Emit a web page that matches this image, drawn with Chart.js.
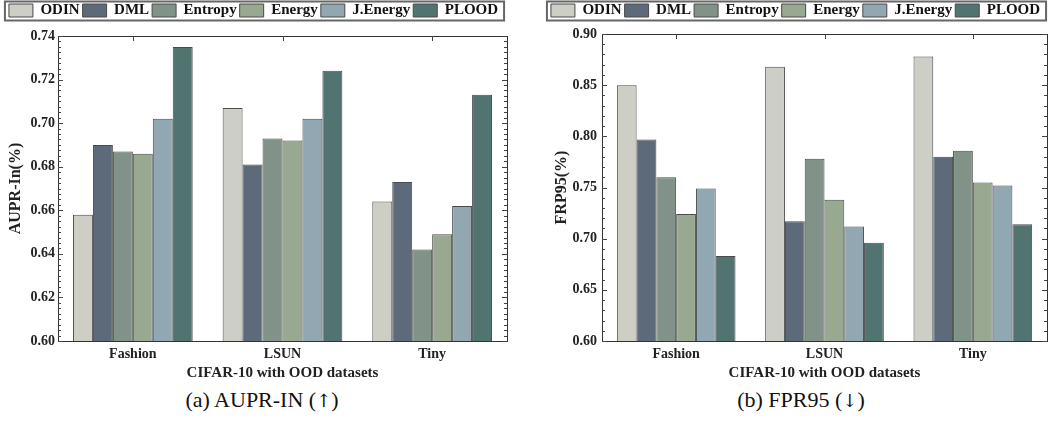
<!DOCTYPE html>
<html>
<head>
<meta charset="utf-8">
<script src="https://cdn.jsdelivr.net/npm/chart.js@4.4.1/dist/chart.umd.min.js"></script>
<style>
    body { margin: 0; background: #fff; width: 1050px; height: 421px; overflow: hidden; position: relative; }
    canvas { position: absolute; top: 0; }
    #auprChart { left: 0; }
    #fprChart { left: 544px; }
    .caption {
        position: absolute; top: 386px; height: 28px; line-height: 28px;
        font-family: 'Liberation Serif', 'Times New Roman', serif; font-size: 22px; color: #111;
        text-align: center; width: 300px;
    }
    .caption span { font-family: 'DejaVu Serif', serif; font-size: 18px; }
</style>
</head>
<body>
<canvas id="auprChart" width="508" height="385"></canvas>
<canvas id="fprChart" width="506" height="385"></canvas>
<div class="caption" style="left:112px">(a) AUPR-IN (<span>↑</span>)</div>
<div class="caption" style="left:651px">(b) FPR95 (<span>↓</span>)</div>
<script>
// Categories and methods
const categories = ['Fashion', 'LSUN', 'Tiny'];
const methods = ['ODIN', 'DML', 'Entropy', 'Energy', 'J.Energy', 'PLOOD'];
const methodColors = ['#cdcec6', '#5c6a7a', '#819389', '#99a891', '#91a7b2', '#527470'];

// AUPR-In values
const auprODIN = [0.658, 0.707, 0.664];
const auprDML = [0.690, 0.681, 0.673];
const auprEntropy = [0.687, 0.693, 0.642];
const auprEnergy = [0.686, 0.692, 0.649];
const auprJEnergy = [0.702, 0.702, 0.662];
const auprPLOOD = [0.735, 0.724, 0.713];

// FPR95 values
const fprODIN = [0.850, 0.868, 0.878];
const fprDML = [0.797, 0.717, 0.780];
const fprEntropy = [0.760, 0.778, 0.786];
const fprEnergy = [0.724, 0.738, 0.755];
const fprJEnergy = [0.749, 0.712, 0.752];
const fprPLOOD = [0.683, 0.696, 0.714];

// Axis ranges / tick steps
const auprRange = [0.60, 0.74];
const auprStep = 0.02;
const auprMinor = 0.0025;
const fprRange = [0.60, 0.90];
const fprStep = 0.05;
const fprMinor = 0.01;

const serif = "'Liberation Serif', 'Times New Roman', serif";
const ink = '#222';

// Box around the legend
const legendFrame = {
    id: 'legendFrame',
    afterDraw(chart) {
        const boxes = chart.legend.legendHitBoxes;
        if (!boxes || !boxes.length) return;
        const l = Math.min(...boxes.map(b => b.left)) - 4;
        const r = Math.max(...boxes.map(b => b.left + b.width)) + 6;
        const ctx = chart.ctx;
        ctx.save();
        ctx.strokeStyle = '#666';
        ctx.lineWidth = 2;
        ctx.strokeRect(l, 1.5, r - l, 19);
        ctx.restore();
    }
};

// Inward tick marks on all sides of the plot frame
const innerTicks = {
    id: 'innerTicks',
    afterDatasetsDraw(chart, args, opts) {
        const { ctx, chartArea: a, scales: { x, y } } = chart;
        ctx.save();
        ctx.strokeStyle = '#444';
        ctx.lineWidth = 1;
        ctx.beginPath();
        const n = Math.round((y.max - y.min) / opts.minor);
        const per = Math.round(opts.major / opts.minor);
        for (let i = 0; i <= n; i++) {
            const py = Math.round(y.getPixelForValue(y.min + i * opts.minor)) + 0.5;
            const len = i % per === 0 ? 5 : 3;
            ctx.moveTo(a.left, py); ctx.lineTo(a.left + len, py);
            ctx.moveTo(a.right, py); ctx.lineTo(a.right - len, py);
        }
        categories.forEach((c, i) => {
            const px = Math.round(x.getPixelForValue(i)) + 0.5;
            ctx.moveTo(px, a.top); ctx.lineTo(px, a.top + 5);
        });
        ctx.stroke();
        ctx.restore();
    }
};

function buildChart(id, series, cfg) {
    const ctx = document.getElementById(id);
    return new Chart(ctx.getContext('2d'), {
        type: 'bar',
        data: {
            labels: categories,
            datasets: series.map((d, i) => ({
                label: methods[i],
                data: d,
                backgroundColor: methodColors[i],
                borderColor: '#4a4a4a',
                borderWidth: 1,
                categoryPercentage: 0.8,
                barPercentage: 1.0
            }))
        },
        options: {
            responsive: false,
            animation: false,
            layout: { padding: { left: 0, right: cfg.padRight, top: 0, bottom: 0 } },
            plugins: {
                legend: {
                    position: 'top',
                    labels: {
                        boxWidth: 24,
                        boxHeight: 13,
                        padding: 3,
                        color: '#111',
                        font: { family: serif, size: 15, weight: 'bold' }
                    }
                },
                tooltip: { enabled: false },
                innerTicks: { major: cfg.step, minor: cfg.minor }
            },
            scales: {
                x: {
                    z: 1,
                    grid: { display: false, drawTicks: false },
                    border: { display: true, color: '#333', width: 1 },
                    ticks: { color: ink, padding: 5, font: { family: serif, size: 14, weight: 'bold' } },
                    title: {
                        display: true,
                        text: 'CIFAR-10 with OOD datasets',
                        color: ink,
                        padding: { top: 0, bottom: 3 },
                        font: { family: serif, size: 15, weight: 'bold' }
                    },
                    afterFit: s => { s.height = 44; }
                },
                x2: {
                    type: 'category',
                    position: 'top',
                    labels: categories,
                    grid: { display: false, drawTicks: false },
                    border: { display: true, color: '#333', width: 1 },
                    ticks: { display: false },
                    afterFit: s => { s.height = cfg.topGap; }
                },
                y: {
                    min: cfg.range[0],
                    max: cfg.range[1],
                    grid: { display: false, drawTicks: false },
                    border: { display: true, color: '#333', width: 1 },
                    ticks: {
                        stepSize: cfg.step,
                        color: ink,
                        padding: cfg.tickPad,
                        font: { family: serif, size: 14, weight: 'bold' },
                        callback: v => Number(v).toFixed(2)
                    },
                    title: {
                        display: true,
                        text: cfg.yTitle,
                        color: ink,
                        padding: { top: cfg.titlePad, bottom: 0 },
                        font: { family: serif, size: 16, weight: 'bold' }
                    },
                    afterFit: s => { s.width = 58; }
                },
                y2: {
                    position: 'right',
                    min: cfg.range[0],
                    max: cfg.range[1],
                    grid: { display: false, drawTicks: false },
                    border: { display: true, color: '#333', width: 1 },
                    ticks: { display: false },
                    afterFit: s => { s.width = 0; }
                }
            }
        },
        plugins: [legendFrame, innerTicks]
    });
}

buildChart('auprChart',
    [auprODIN, auprDML, auprEntropy, auprEnergy, auprJEnergy, auprPLOOD],
    { range: auprRange, step: auprStep, minor: auprMinor, yTitle: 'AUPR-In(%)',
      padRight: 1, topGap: 8, tickPad: 3, titlePad: 6 });

buildChart('fprChart',
    [fprODIN, fprDML, fprEntropy, fprEnergy, fprJEnergy, fprPLOOD],
    { range: fprRange, step: fprStep, minor: fprMinor, yTitle: 'FRP95(%)',
      padRight: 3, topGap: 6, tickPad: 5, titlePad: 8 });
</script>
</body>
</html>
